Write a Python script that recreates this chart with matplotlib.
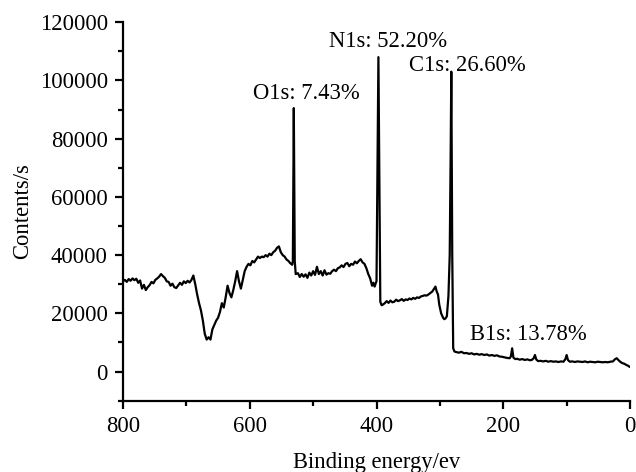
import matplotlib
matplotlib.use("Agg")
import matplotlib.pyplot as plt
from matplotlib.ticker import MultipleLocator

plt.rcParams['font.family'] = ['Liberation Serif', 'DejaVu Serif']

# Binding energy (eV) and counts
energy = [800, 797, 794, 791, 788, 785, 782, 779, 776, 773, 770, 767, 764, 761, 758, 755,
          752, 749, 746, 743, 740, 737, 734, 731, 728, 725, 722, 719, 716, 713, 710, 707,
          704, 701, 698, 695, 692, 689, 686, 683, 680, 677, 674, 671, 668, 665, 662, 659,
          656, 653, 650, 647, 644, 641, 638, 635, 632, 629, 626, 623, 620, 617, 614, 611,
          608, 605, 602, 599, 596, 593, 590, 587, 584, 581, 578, 575, 572, 569, 566, 563,
          560, 557, 554, 551, 548, 545, 542, 539, 536, 533, 532, 530.5, 529, 527.5,
          524, 521, 518, 515, 512, 509, 506, 503, 500, 497, 494, 491, 488, 485, 482, 479,
          476, 473, 470, 467, 464, 461, 458, 455, 452, 449, 446, 443, 440, 437, 434, 431,
          428, 425, 422, 419, 416, 413, 410, 407, 405, 403, 401, 400, 397, 394, 392,
          390, 387, 384, 381, 378, 375, 372, 369, 366, 363, 360, 357, 354, 351, 348, 345,
          342, 339, 336, 333, 330, 327, 324, 321, 318, 315, 312, 309, 307, 305, 303, 301,
          298, 295, 293, 291, 289, 286.5, 284.5, 283, 282, 280.5, 279, 277,
          274, 270, 266, 262, 258, 254, 250, 246, 242, 238, 234, 230, 226, 222, 218, 214,
          210, 206, 202, 198, 194, 190, 188, 186, 184, 181, 178, 174, 170, 166, 162, 158,
          155, 152, 150, 148, 145, 141, 137, 133, 129, 125, 121, 117, 113, 109, 105, 102,
          100, 98, 95, 91, 87, 83, 79, 75, 71, 67, 63, 59, 55, 51, 47, 43, 39, 35, 31, 27,
          24, 21, 18, 15, 12, 9, 6, 3, 1]
counts = [31000, 31500, 30800, 31800, 31200, 32000, 31400, 31900, 30500, 31300, 28500, 29800,
          28000, 29000, 29700, 30800, 30300, 31500, 32000, 32600, 33500, 32800, 32200, 31000,
          30800, 29500, 30200, 29000, 28700, 29600, 30500, 29800, 31000, 30400, 31200, 30600,
          31500, 33000, 30000, 26500, 23500, 21000, 17500, 13000, 11000, 11800, 11000, 14500,
          16000, 17500, 18500, 20500, 23500, 22000, 25500, 29500, 27000, 25500, 28000, 31000,
          34500, 31000, 28500, 31500, 34500, 36000, 37000, 36500, 38000, 37500, 38500, 39500,
          39000, 39500, 39300, 40000, 39500, 40500, 40000, 41000, 41500, 42500, 43000, 41000,
          40000, 39500, 38500, 38000, 37200, 36700, 38000, 90500, 38000, 33500,
          33800, 32500, 33500, 32600, 33400, 32200, 34000, 33000, 34500, 33200, 36000, 33500,
          34500, 33000, 34800, 33300, 33800, 33600, 34500, 35000, 34500, 35500, 35800, 36500,
          35900, 37000, 37300, 36200, 37000, 36700, 37800, 37200, 38000, 38600, 37500, 37000,
          35500, 33500, 32000, 29500, 30500, 29200, 30500, 31000, 108000, 24000, 22800,
          23000, 23500, 24200, 23600, 24400, 23800, 24000, 24700, 24200, 24500, 24900, 24300,
          24800, 24600, 25100, 24800, 25300, 25000, 25500, 25300, 25800, 26000, 26200, 26100,
          26500, 27000, 27500, 28500, 29200, 27500, 26500, 23000, 20000, 18500, 18000, 18300,
          19000, 26000, 40000, 75000, 103000, 40000, 8000, 6900,
          6700, 6500, 6800, 6300, 6400, 6100, 6300, 5900, 6100, 5800, 6000, 5700, 5900, 5500,
          5700, 5400, 5600, 5200, 5100, 4900, 4700, 4600, 5200, 8000, 4800, 4300, 4400, 4100,
          4300, 4000, 4200, 3900, 4000, 4600, 5700, 4200, 3600, 3700, 3500, 3700, 3400, 3600,
          3400, 3500, 3300, 3500, 3400, 4300, 5700, 4000, 3400, 3500, 3300, 3500, 3400, 3300,
          3500, 3200, 3400, 3300, 3200, 3400, 3300, 3200, 3300, 3200, 3400, 3500, 4200, 4600,
          3900, 3300, 2900, 2700, 2300, 2000, 1700]

peak_labels = ["O1s: 7.43%", "N1s: 52.20%", "C1s: 26.60%", "B1s: 13.78%"]
label_x = [595, 475, 348, 252.5]
label_y = [93750, 111530, 103140, 10900]

FS = 16.3

fig = plt.figure(figsize=(6.36, 4.72), dpi=100)
ax = fig.add_axes([0.1934, 0.151, 0.7972, 0.802])
ax.plot(energy, counts, color='black', lw=1.6)

ax.set_xlim(800, 0)
ax.set_ylim(-10000, 120000)
ax.xaxis.set_major_locator(MultipleLocator(200))
ax.xaxis.set_minor_locator(MultipleLocator(100))
ax.yaxis.set_major_locator(MultipleLocator(20000))
ax.yaxis.set_minor_locator(MultipleLocator(10000))

for s in ['top', 'right']:
    ax.spines[s].set_visible(False)
for s in ['left', 'bottom']:
    ax.spines[s].set_linewidth(1.6)

ax.tick_params(which='major', direction='out', length=6, width=1.6, labelsize=FS, pad=5)
ax.tick_params(which='minor', direction='out', length=3.5, width=1.6)

ax.set_xlabel("Binding energy/ev", fontsize=FS, labelpad=11)
ax.set_ylabel("Contents/s", fontsize=FS, labelpad=5)

for t, x, y in zip(peak_labels, label_x, label_y):
    ax.text(x, y, t, fontsize=FS, ha='left', va='baseline')

fig.savefig("out.png", dpi=100)
